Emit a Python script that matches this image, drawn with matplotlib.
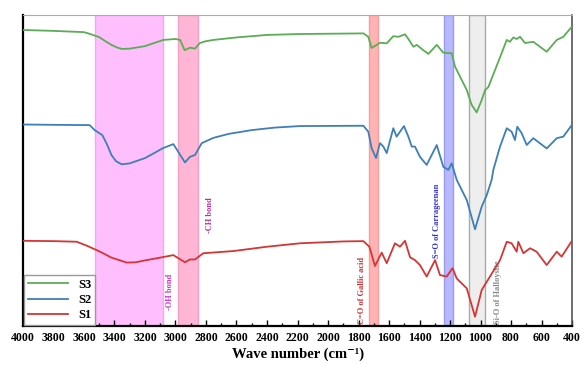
import matplotlib
matplotlib.use("Agg")
import matplotlib.pyplot as plt
from matplotlib.ticker import MultipleLocator

# FTIR spectra (wavenumber, offset transmittance a.u.)
s3_wn = [4000, 3800, 3600, 3560, 3500, 3460, 3420, 3380, 3350, 3300, 3200, 3140, 3080, 3000,
         2970, 2940, 2905, 2872, 2840, 2800, 2750, 2600, 2400, 2184, 1768, 1736, 1714, 1681,
         1659, 1615, 1572, 1539, 1495, 1473, 1440, 1418, 1375, 1342, 1287, 1244, 1189, 1167,
         1123, 1090, 1058, 1025, 992, 970, 949, 905, 861, 828, 807, 785, 763, 741, 708, 654,
         566, 500, 457, 402]
s3_t = [95.2, 94.9, 94.5, 93.9, 92.9, 91.6, 90.4, 89.5, 89.1, 89.2, 90.0, 91.0, 92.0, 92.3,
        92.0, 88.7, 89.5, 89.2, 91.0, 91.6, 92.0, 92.8, 93.6, 93.9, 94.1, 93.0, 89.4, 90.4,
        91.1, 90.9, 93.2, 93.0, 93.8, 92.3, 89.8, 90.4, 88.7, 87.5, 90.4, 87.9, 87.7, 83.4,
        79.1, 75.9, 71.1, 68.7, 72.7, 75.9, 76.8, 82.3, 87.8, 92.0, 91.4, 92.8, 92.3, 93.0, 91.0, 91.4,
        88.2, 92.0, 93.0, 96.2]

s2_wn = [4000, 3800, 3563, 3530, 3480, 3450, 3420, 3390, 3353, 3300, 3200, 3140, 3082, 3014,
         2938, 2905, 2872, 2828, 2752, 2650, 2500, 2350, 2184, 1768, 1736, 1714, 1685, 1659,
         1637, 1615, 1572, 1550, 1502, 1473, 1451, 1430, 1397, 1353, 1287, 1244, 1211, 1189,
         1156, 1090, 1036, 992, 959, 927, 916, 872, 828, 796, 774, 759, 730, 697, 654, 566,
         500, 457, 402]
s2_t = [64.8, 64.7, 64.6, 63.0, 61.4, 58.5, 55.0, 53.0, 52.0, 52.3, 54.0, 55.6, 57.2, 58.5,
        52.6, 54.4, 55.0, 58.8, 60.5, 61.8, 63.0, 63.8, 64.3, 64.4, 62.5, 57.2, 54.0, 58.8,
        57.7, 55.6, 63.6, 60.9, 64.3, 60.9, 57.7, 57.7, 54.4, 51.8, 58.2, 51.2, 50.2, 52.3,
        47.0, 40.5, 31.1, 38.4, 42.1, 47.0, 50.2, 57.7, 63.6, 62.5, 59.8, 64.1, 62.0, 58.2, 60.4, 57.1,
        60.4, 60.9, 64.6]

s1_wn = [4000, 3800, 3648, 3580, 3495, 3420, 3320, 3260, 3189, 3100, 3014, 2938, 2905, 2872,
         2818, 2621, 2400, 2184, 1900, 1768, 1729, 1692, 1648, 1615, 1561, 1528, 1495, 1462,
         1430, 1397, 1353, 1298, 1266, 1222, 1183, 1156, 1090, 1036, 992, 938, 872, 828, 796,
         763, 752, 719, 675, 632, 566, 500, 468, 402]
s1_t = [27.4, 27.3, 27.1, 25.8, 23.9, 22.0, 20.4, 20.5, 21.2, 22.0, 22.8, 20.5, 21.4, 21.4,
        23.4, 24.1, 25.5, 26.6, 27.2, 27.3, 25.5, 19.3, 23.6, 20.2, 26.6, 25.5, 27.4, 22.1,
        21.2, 19.6, 15.9, 21.2, 16.4, 15.9, 18.6, 15.3, 12.1, 3.0, 11.6, 15.9, 21.2, 27.1, 26.6,
        23.9, 27.1, 23.4, 25.0, 23.9, 19.6, 23.9, 22.3, 27.3]

# highlighted bands (start, end, face, edge) and their labels
bands = [(3530, 3080, '#ffbfff', '#f0a8f0'),
         (2985, 2850, '#ffb6d6', '#f5a0c4'),
         (1730, 1670, '#ffb3b3', '#f5a0a0'),
         (1240, 1180, '#b8b8ff', '#9a9af0'),
         (1075, 970, '#eeeeee', '#aaaaaa')]
band_labels = ['-OH bond', '-CH bond', 'C=O of Gallic acid', 'S=O of Carrageenan', 'Si-O of Halloysite']
label_wn = [3036, 2774, 1779, 1287, 885]
label_y = [10.9, 35.7, 11.3, 33.8, 10.9]
label_colors = ['#cc33cc', '#b8309c', '#cc3333', '#3333cc', '#888888']

plt.rcParams['font.family'] = ['Liberation Serif', 'DejaVu Serif']
plt.rcParams['font.weight'] = 'bold'

fig = plt.figure(figsize=(5.85, 3.65), dpi=100)
ax = fig.add_axes([0.0393, 0.1068, 0.9385, 0.852])

for b0, b1, fc, ec in bands:
    ax.axvspan(b1, b0, facecolor=fc, edgecolor=ec, lw=1.0, zorder=1)

ax.plot(s3_wn, s3_t, color='#5aad55', lw=1.3, label='S3', zorder=3)
ax.plot(s2_wn, s2_t, color='#3d7fb8', lw=1.3, label='S2', zorder=3)
ax.plot(s1_wn, s1_t, color='#d43535', lw=1.3, label='S1', zorder=3)

for txt, x, y, c in zip(band_labels, label_wn, label_y, label_colors):
    ax.text(x, y, txt, rotation=90, color=c, fontsize=6, fontweight='bold',
            ha='center', va='center', zorder=2)

ax.set_xlim(4000, 400)
ax.set_ylim(0, 100)
ax.xaxis.set_major_locator(MultipleLocator(200))
ax.xaxis.set_minor_locator(MultipleLocator(100))
ax.tick_params(axis='x', which='both', direction='in', labelsize=8.5, pad=4)
ax.tick_params(axis='x', which='major', length=4, width=1)
ax.tick_params(axis='x', which='minor', length=2.5, width=1)
ax.set_yticks([])
for lab in ax.get_xticklabels():
    lab.set_fontweight('bold')

# axis title placed by hand so it stays inside the small canvas
fig.text(0.51, 0.012, 'Wave number (cm⁻¹)', fontsize=10.5, fontweight='bold',
         ha='center', va='bottom')

ax.spines['left'].set_linewidth(1.6)
ax.spines['bottom'].set_linewidth(1.6)
ax.spines['top'].set_color('#aaaaaa')
ax.spines['right'].set_color('#555555')
ax.spines['right'].set_linewidth(1.2)

leg = ax.legend(loc='lower left', borderaxespad=0.1, handlelength=3.2,
                fancybox=False, framealpha=1, edgecolor='#999999', borderpad=0.3,
                labelspacing=0.25, prop={'weight': 'bold', 'size': 9})
leg.set_zorder(4)

fig.savefig('out.png', dpi=100)
